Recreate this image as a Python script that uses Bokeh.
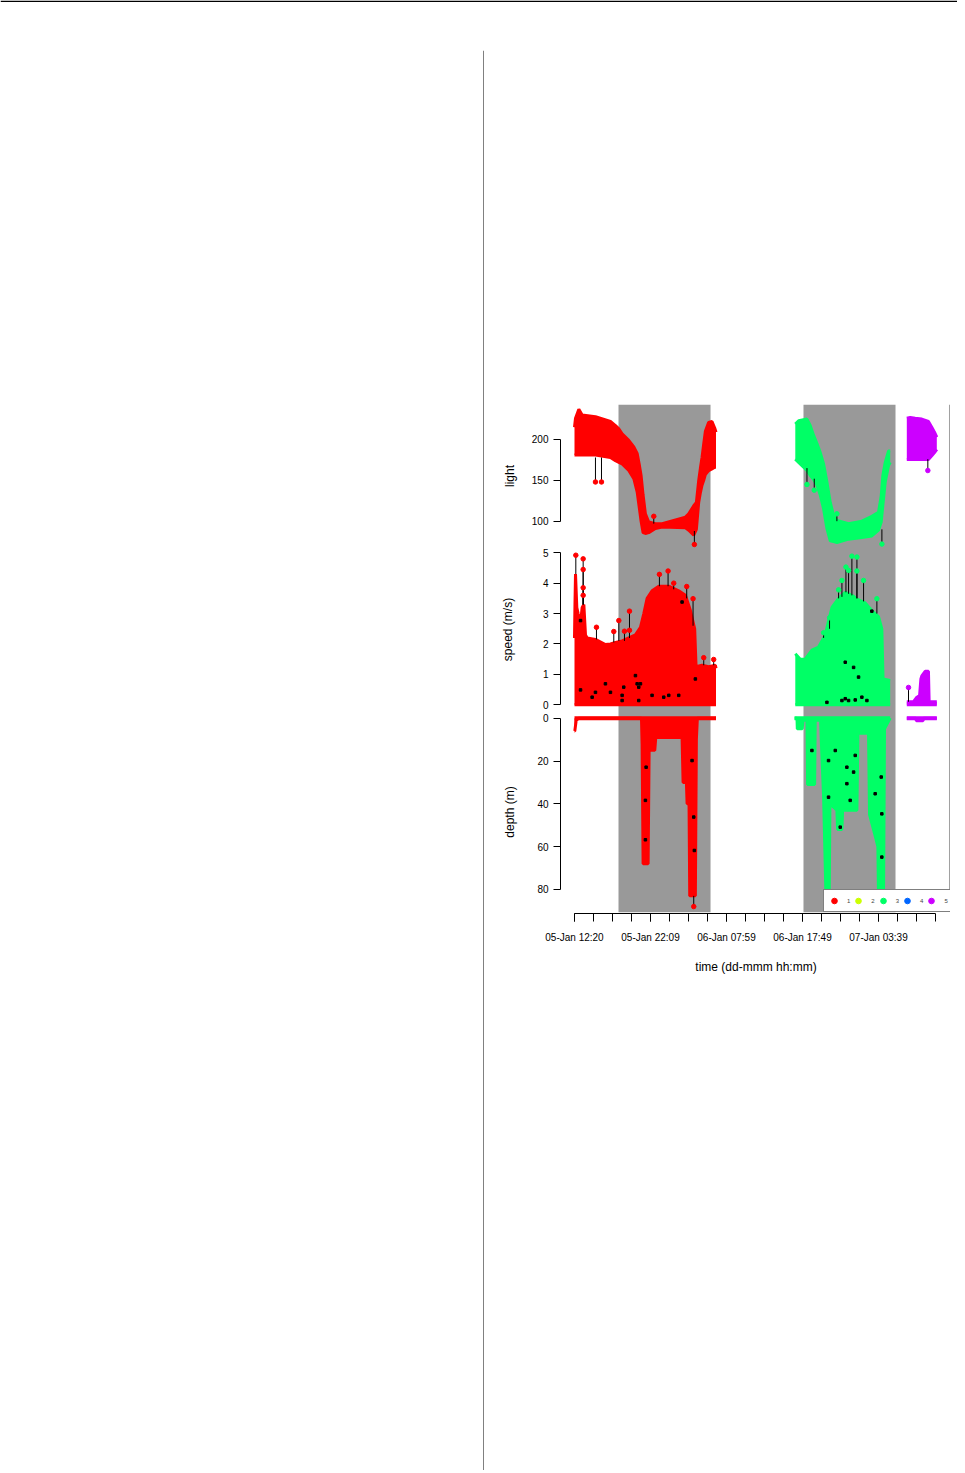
from bokeh.plotting import figure
from bokeh.layouts import column, row
from bokeh.models import (Range1d, LinearAxis, FixedTicker, Span,
                          Legend, LegendItem, Spacer)
from bokeh.embed import file_html
from bokeh.resources import INLINE

# ---------------- data (x = hours after 05-Jan 12:20) ----------------
tick_labels = ["05-Jan 12:20", "05-Jan 22:09", "06-Jan 07:59", "06-Jan 17:49", "07-Jan 03:39"]
label_step_h = 9.8278            # 9 h 49.7 min between labelled ticks
minor_per_label = 4
n_ticks = 20

night_start = [5.69, 29.61]
night_end = [17.59, 41.51]

series_names = ["1", "2", "3", "4", "5"]
series_colors = ["#FF0000", "#CCFF00", "#00FF66", "#0066FF", "#CC00FF"]

light_ticks = [100, 150, 200]
speed_ticks = [0, 1, 2, 3, 4, 5]
depth_ticks = [0, 20, 40, 60, 80]

# light
red_light_t = [0.0, 0.13, 0.56, 0.99, 2.71, 4.65, 5.30, 5.73, 6.16, 7.02, 7.67, 8.10, 8.40, 8.61, 8.87,
               9.17, 9.60, 10.46, 11.33, 14.34, 14.77, 15.42, 15.76, 16.06, 16.28, 16.49, 16.71, 16.92,
               17.35, 17.78, 18.13, 18.30]
red_light_hi = [215, 226, 237, 230, 228, 222, 217, 213, 207, 199, 191, 183, 168, 156, 132, 109, 99, 97, 97,
                105, 109, 119, 123, 150, 165, 178, 195, 210, 221, 222, 214, 209]
red_light_lo = [181, 181, 181, 181, 181, 178, 174, 172, 170, 162, 152, 136, 115, 100, 86, 85, 86, 91, 93,
                92, 89, 83, 90, 123, 135, 144, 150, 157, 162, 164, 166, 166]
red_light_spk_t = [2.71, 3.49, 10.25, 15.50]
red_light_spk_v = [148, 148, 106, 71.5]
red_light_spk_base = [178, 178, 97, 88]

green_light_t = [28.55, 28.98, 30.06, 30.49, 30.92, 31.35, 31.78, 32.21, 32.64, 33.07, 33.50, 33.93, 35.44,
                 37.16, 38.45, 39.31, 39.66, 39.87, 40.18, 40.61, 40.82]
green_light_hi = [219, 223, 225, 217, 205, 195, 184, 170, 148, 123, 107, 101, 97, 100, 106, 111, 131, 156,
                  172, 186, 186]
green_light_lo = [176, 172, 162, 156, 151, 144, 132, 115, 91, 76, 75, 74, 78, 80, 82, 89, 99, 119, 148,
                  168, 172]
green_light_spk_t = [30.06, 31.00, 33.93, 39.75]
green_light_spk_v = [145, 138, 109, 72]
green_light_spk_base = [165, 152, 100, 90]

purple_light_t = [42.97, 43.41, 44.05, 44.91, 45.77, 46.20, 46.55, 46.85]
purple_light_hi = [226, 227, 226, 225, 222, 215, 209, 203]
purple_light_lo = [175.5, 175.5, 175.5, 175.5, 175.5, 180, 184, 188]
purple_light_spk_t = [45.69]
purple_light_spk_v = [162]
purple_light_spk_base = [176]

# speed (m/s)
red_speed_t = [0.0, 0.06, 0.13, 0.30, 0.47, 0.78, 0.99, 1.21, 1.42, 1.64, 2.71, 4.0, 4.65, 5.30, 6.16,
               7.02, 7.88, 8.53, 8.96, 9.39, 10.03, 10.90, 12.19, 13.48, 14.34, 14.99, 15.54, 15.72,
               16.49, 17.35, 18.22, 18.30]
red_speed_hi = [2.2, 3.3, 4.3, 3.2, 3.0, 2.7, 3.2, 3.3, 2.3, 2.2, 2.15, 1.98, 2.0, 2.05, 2.1, 2.2, 2.3,
                2.55, 3.0, 3.5, 3.75, 3.9, 3.9, 3.75, 3.6, 3.1, 2.5, 1.25, 1.3, 1.25, 1.3, 1.2]
red_speed_spk_t = [0.17, 1.12, 1.12, 1.12, 1.12, 2.84, 5.08, 5.73, 6.46, 7.11, 7.11, 10.98, 12.10, 12.83,
                   14.51, 15.33, 16.71, 18.0]
red_speed_spk_v = [4.92, 4.80, 4.45, 3.85, 3.60, 2.55, 2.41, 2.77, 2.42, 3.08, 2.45, 4.29, 4.40, 4.00,
                   3.89, 3.49, 1.55, 1.49]
red_speed_spk_base = [4.3, 3.3, 3.3, 3.3, 3.3, 2.15, 2.05, 2.1, 2.1, 2.2, 2.2, 3.9, 3.9, 3.8, 3.5, 2.6,
                      1.3, 1.3]

green_speed_t = [28.55, 29.20, 29.84, 30.70, 31.56, 32.43, 32.85, 33.29, 34.15, 35.01, 35.87, 36.73,
                 37.59, 38.45, 39.31, 39.74, 39.90, 40.82]
green_speed_hi = [1.68, 1.50, 1.50, 1.80, 1.90, 2.30, 2.75, 3.20, 3.50, 3.70, 3.60, 3.45, 3.35, 3.10,
                  2.90, 2.50, 0.85, 0.80]
green_speed_spk_t = [32.21, 32.98, 34.15, 34.58, 35.10, 35.44, 35.87, 36.52, 36.52, 37.38, 39.10]
green_speed_spk_v = [2.37, 2.86, 3.78, 4.09, 4.53, 4.42, 4.89, 4.86, 4.40, 4.09, 3.49]
green_speed_spk_base = [2.2, 2.5, 3.5, 3.55, 3.7, 3.65, 3.6, 3.5, 3.5, 3.4, 3.0]

purple_speed_t = [42.97, 43.84, 44.27, 44.62, 44.79, 44.91, 45.34, 45.77, 45.86, 46.85]
purple_speed_hi = [0.10, 0.10, 0.25, 0.30, 0.85, 0.95, 1.10, 1.10, 0.10, 0.10]
purple_speed_spk_t = [43.19]
purple_speed_spk_v = [0.57]
purple_speed_spk_base = [0.1]

dark_speed_t = [0.78, 0.78, 2.28, 2.71, 4.0, 4.65, 6.16, 6.37, 6.16, 7.88, 8.10, 8.31, 8.53, 8.31, 10.03,
                11.54, 12.19, 13.48, 13.91, 15.63, 35.01, 36.09, 36.73, 38.45, 34.58, 35.01, 35.44, 36.30,
                37.16, 37.81, 32.64]
dark_speed_v = [0.49, 2.77, 0.25, 0.41, 0.69, 0.41, 0.31, 0.58, 0.14, 0.96, 0.69, 0.58, 0.69, 0.14, 0.31,
                0.25, 0.31, 0.31, 3.38, 0.85, 1.40, 1.23, 0.91, 3.08, 0.14, 0.20, 0.14, 0.16, 0.25, 0.14,
                0.08]

# depth (m)
red_depth_t = [0.0, 0.04, 0.22, 0.56, 8.66, 8.74, 8.87, 9.52, 9.65, 10.38, 10.51, 13.91, 14.04, 14.47,
               14.56, 14.81, 14.90, 15.63, 15.76, 15.89, 18.30]
red_depth_max = [6, 6, 1, 0, 0, 12, 68, 68, 15, 15, 9, 9, 30, 30, 40, 40, 83, 83, 10, 0, 0]
red_depth_spk_t = [15.42]
red_depth_spk_v = [88]
red_depth_spk_base = [83]

green_depth_t = [28.46, 28.77, 28.81, 29.45, 29.54, 30.06, 30.14, 31.05, 31.13, 31.82, 31.91, 32.21,
                 32.51, 32.94, 33.03, 33.93, 34.02, 34.58, 34.67, 36.52, 36.65, 38.02, 38.15, 38.88,
                 39.23, 39.31, 39.96, 40.09, 40.82]
green_depth_max = [0, 0, 5, 5, 1, 1, 31, 31, 1, 1, 10, 37, 82, 82, 40, 43, 52, 52, 43, 43, 7, 7, 45, 55,
                   60, 84, 84, 5, 0]

purple_depth_t = [42.97, 44.14, 44.20, 45.07, 45.13, 46.85]
purple_depth_max = [0, 0, 1.2, 1.2, 0, 0]

dark_depth_t = [32.85, 33.72, 35.22, 35.22, 36.09, 36.30, 38.88, 39.74, 39.74, 35.65, 34.36, 30.70,
                32.85, 39.66, 9.17, 9.17, 9.26, 15.20, 15.42, 15.50]
dark_depth_v = [19.8, 15.1, 22.9, 30.6, 25.2, 17.4, 35.3, 44.7, 64.9, 38.4, 50.9, 15.1, 36.9, 27.5, 38.4,
                56.8, 22.9, 19.8, 46.2, 61.8]

# ---------------- styling ----------------
FONT = "Liberation Sans"
NIGHT = "#999999"
RED, GREEN, PURPLE = series_colors[0], series_colors[2], series_colors[4]
NAN = float("nan")

# panel scales: each range spans the whole 508 px plot height, so each panel sits in its own band
light_range = Range1d(-378.95, 242.84)
speed_range = Range1d(-6.833, 9.878)
depth_range = Range1d(90.77, -146.5)
# ranges of the narrow axis strips (one strip per panel band)
light_axis_range = Range1d(67.8, 242.84)
speed_axis_range = Range1d(-0.221, 5.174)
depth_axis_range = Range1d(90.75, -3.13)

x_range = Range1d(-1.681, 48.62)


def bare(p):
    p.grid.visible = False
    return p


def style_axis(ax, label, standoff):
    ax.axis_line_color = "black"
    ax.major_tick_line_color = "black"
    ax.minor_tick_line_color = "black"
    ax.major_label_text_font = FONT
    ax.major_label_text_font_size = "10px"
    ax.major_label_text_color = "black"
    ax.axis_label = label
    ax.axis_label_text_font = FONT
    ax.axis_label_text_font_size = "12px"
    ax.axis_label_text_font_style = "normal"
    ax.axis_label_text_color = "black"
    ax.axis_label_standoff = standoff


def axis_strip(height, yr, ticks, label, standoff):
    p = bare(figure(width=77, height=height, x_range=Range1d(0, 1), y_range=yr,
                    output_backend="svg", toolbar_location=None,
                    x_axis_location=None, y_axis_location=None,
                    min_border_left=76, min_border_right=0, min_border_top=0,
                    min_border_bottom=0, outline_line_color=None))
    ax = LinearAxis(ticker=FixedTicker(ticks=ticks), bounds=(min(ticks), max(ticks)))
    ax.major_tick_out = 7
    ax.major_tick_in = 0
    ax.minor_tick_out = 0
    ax.minor_tick_in = 0
    ax.major_label_standoff = 5
    style_axis(ax, label, standoff)
    p.add_layout(ax, "left")
    return p


strip_light = axis_strip(143, light_axis_range, light_ticks, "light", 12)
strip_speed = axis_strip(164, speed_axis_range, speed_ticks, "speed (m/s)", 25)
strip_depth = axis_strip(201, depth_axis_range, depth_ticks, "depth (m)", 17)

# ---------------- main plot ----------------
p = bare(figure(width=396, height=508, x_range=x_range, y_range=Range1d(0, 1),
                output_backend="svg", toolbar_location=None,
                x_axis_location=None, y_axis_location=None,
                min_border_left=0, min_border_right=7, min_border_top=0, min_border_bottom=0,
                outline_line_color=None))
p.extra_y_ranges = {"light": light_range, "speed": speed_range, "depth": depth_range}

p.quad(left=night_start, right=night_end, bottom=0, top=1, fill_color=NIGHT, line_color=None,
       level="underlay")
p.add_layout(Span(location=x_range.end - 0.13, dimension="height", line_color="#a0a0a0",
                  line_width=1))


def band(t, lo, hi, color, rng):
    p.varea(x=t, y1=lo, y2=hi, fill_color=color, y_range_name=rng)
    p.line(t, hi, line_color=color, line_width=3, y_range_name=rng)
    p.line(t, lo, line_color=color, line_width=3, y_range_name=rng)


def spikes(t, v, base, color, rng):
    p.segment(x0=t, y0=base, x1=t, y1=v, line_color="black", line_width=1, y_range_name=rng)
    p.scatter(x=t, y=v, size=4.5, marker="circle", fill_color=color, line_color=color,
              y_range_name=rng)


# light
band(red_light_t, red_light_lo, red_light_hi, RED, "light")
band(green_light_t, green_light_lo, green_light_hi, GREEN, "light")
band(purple_light_t, purple_light_lo, purple_light_hi, PURPLE, "light")
spikes(red_light_spk_t, red_light_spk_v, red_light_spk_base, RED, "light")
spikes(green_light_spk_t, green_light_spk_v, green_light_spk_base, GREEN, "light")
spikes(purple_light_spk_t, purple_light_spk_v, purple_light_spk_base, PURPLE, "light")

# speed
for t, hi, c in [(red_speed_t, red_speed_hi, RED), (green_speed_t, green_speed_hi, GREEN),
                 (purple_speed_t, purple_speed_hi, PURPLE)]:
    band(t, [0] * len(t), hi, c, "speed")
spikes(red_speed_spk_t, red_speed_spk_v, red_speed_spk_base, RED, "speed")
spikes(green_speed_spk_t, green_speed_spk_v, green_speed_spk_base, GREEN, "speed")
spikes(purple_speed_spk_t, purple_speed_spk_v, purple_speed_spk_base, PURPLE, "speed")
p.scatter(x=dark_speed_t, y=dark_speed_v, marker="square", size=2.5, color="black",
          y_range_name="speed")

# depth
for t, d, c in [(red_depth_t, red_depth_max, RED), (green_depth_t, green_depth_max, GREEN),
                (purple_depth_t, purple_depth_max, PURPLE)]:
    p.varea(x=t, y1=[0] * len(t), y2=d, fill_color=c, y_range_name="depth")
    p.line(t, d, line_color=c, line_width=3, y_range_name="depth")
    p.line(t, [0] * len(t), line_color=c, line_width=4, y_range_name="depth")
spikes(red_depth_spk_t, red_depth_spk_v, red_depth_spk_base, RED, "depth")
p.scatter(x=dark_depth_t, y=dark_depth_v, marker="square", size=2.5, color="black",
          y_range_name="depth")

# legend keys (series 2 and 4 have no fixes in this window)
items = []
for name, c in zip(series_names, series_colors):
    r = p.scatter(x=[NAN], y=[NAN], marker="circle", size=6, fill_color=c, line_color=c)
    items.append(LegendItem(label=name, renderers=[r]))
legend = Legend(items=items, orientation="horizontal", location=(262, 0), margin=0,
                padding=3, spacing=1, glyph_width=14, glyph_height=15, label_height=15,
                label_width=3, label_standoff=6, label_text_font=FONT, label_text_font_size="6px",
                border_line_color="black", border_line_width=1, background_fill_alpha=1.0)
p.add_layout(legend, "center")

# ---------------- time axis (own strip so the first label may reach left of the plot) -------------
pt = bare(figure(width=473, height=71, x_range=x_range, y_range=Range1d(0, 1),
                 output_backend="svg", toolbar_location=None,
                 x_axis_location=None, y_axis_location=None,
                 min_border_left=77, min_border_right=7, min_border_top=0, min_border_bottom=70,
                 outline_line_color=None))
pt.quad(left=night_start, right=night_end, bottom=0, top=1, fill_color=NIGHT, line_color=None,
        level="underlay")
major = [i * label_step_h for i in range(len(tick_labels))]
minor = [i * label_step_h / minor_per_label for i in range(n_ticks)]
xax = LinearAxis(ticker=FixedTicker(ticks=major, minor_ticks=minor), bounds=(0, minor[-1]))
xax.major_label_overrides = {m: lab for m, lab in zip(major, tick_labels)}
xax.major_tick_out = 8
xax.major_tick_in = 0
xax.minor_tick_out = 8
xax.minor_tick_in = 0
xax.major_label_standoff = 10
style_axis(xax, "time (dd-mmm hh:mm)", 14)
pt.add_layout(xax, "below")

# ---------------- page frame ----------------
top = bare(figure(width=957, height=50, x_range=Range1d(0, 957), y_range=Range1d(0, 50),
                  output_backend="svg", toolbar_location=None, x_axis_location=None,
                  y_axis_location=None, min_border=0, outline_line_color=None))
top.add_layout(Span(location=49.2, dimension="width", line_color="black", line_width=1.5))

left = bare(figure(width=484, height=1420, x_range=Range1d(0, 484), y_range=Range1d(0, 1420),
                   output_backend="svg", toolbar_location=None, x_axis_location=None,
                   y_axis_location=None, min_border=0, outline_line_color=None))
left.add_layout(Span(location=483.5, dimension="height", line_color="black", line_width=1))

strips = column(strip_light, strip_speed, strip_depth)
chart = column(Spacer(width=473, height=354), row(strips, p), pt)
page = column(top, row(left, chart))

open("out.html", "w").write(file_html(page, INLINE))
